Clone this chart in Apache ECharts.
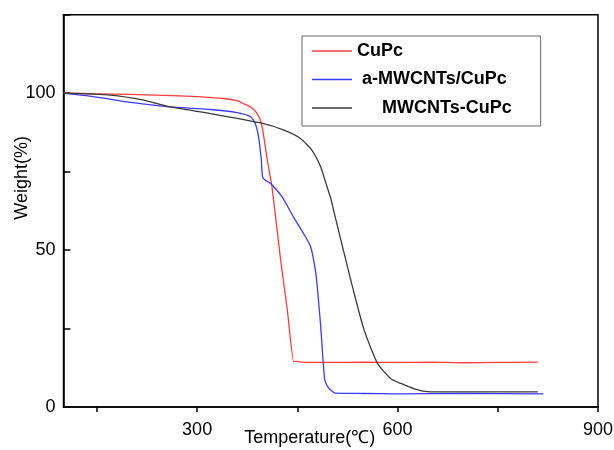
<!DOCTYPE html>
<html>
<head>
<meta charset="utf-8">
<script src="https://cdn.jsdelivr.net/npm/echarts@6/dist/echarts.min.js"></script>
<style>html,body{margin:0;padding:0;background:#fff}#c{width:614px;height:450px}</style>
</head>
<body>
<div id="c"></div>
<script>
var seriesNames = ['CuPc', 'a-MWCNTs/CuPc', 'MWCNTs-CuPc'];
var cupc = [[100,100],[150,99.8],[200,99.6],[250,99.3],[300,98.9],[340,98.3],[360,97.6],[370,96.6],[380,95.6],[388,94],[395,91.2],[399,87.2],[405,78.7],[412,70.2],[425,46.8],[435,30.9],[444.7,14.4],[448,14.6],[455,14.3],[500,14.2],[550,14.3],[600,14.2],[650,14.3],[700,14.1],[750,14.2],[810,14.3]];
var aMwcnts = [[100,100],[145,98.9],[195,97.2],[225,96.4],[260,95.6],[320,94.8],[360,93.8],[380,92.5],[387,90.3],[392,86],[396,79],[398.5,73],[410,71.2],[427,67],[444,60.6],[459,55.4],[470,51],[477,43.6],[480,38],[485,25.6],[491,8.6],[497,6],[507,4.4],[550,4.3],[600,4.2],[700,4.3],[818,4.2]];
var mwcnts = [[100,100],[170,99.4],[220,97.8],[260,95.6],[320,93.5],[395,90.5],[430,88.2],[455,85.5],[472,81.8],[485,76.5],[492,71.8],[500,66.5],[505,62],[520,49],[535,36.2],[550,24.5],[570,13.9],[590,9],[605,7.5],[625,5.8],[645,4.9],[680,4.8],[750,4.8],[810,4.8]];
var xTicks = [150,300,450,600,750,900];
var xLabels = [300,600,900];
var yTicks = [0,25,50,75,100,125];
var yLabels = [0,50,100];

var chart = echarts.init(document.getElementById('c'), null, {renderer:'canvas'});
var font = 'Arial, "Liberation Sans", sans-serif';
var colors = ['#ff3b3b', '#3b3bff', '#3a3a3a'];
chart.setOption({
  animation: false,
  grid: {left: 63.5, right: 16, top: 14.7, bottom: 43, show: true, borderColor: '#000', borderWidth: 1.5, containLabel: false, outerBoundsMode: 'none'},
  legend: {
    data: seriesNames.map(function(n){ return {name: n, icon: 'rect'}; }),
    orient: 'vertical',
    left: 302, top: 36,
    padding: [6, 29, 9, 10],
    itemWidth: 40, itemHeight: 1.3, itemGap: 10.5,
    borderColor: '#666', borderWidth: 1,
    formatter: function(n){ return n === 'CuPc' ? n : (n === 'a-MWCNTs/CuPc' ? ' ' + n : '     ' + n); },
    textStyle: {fontFamily: font, fontSize: 18, fontWeight: 'bold', color: '#000', lineHeight: 18}
  },
  xAxis: {
    type: 'value', min: 100, max: 900,
    name: 'Temperature(℃)', nameLocation: 'middle', nameGap: 22, nameMoveOverlap: false,
    nameTextStyle: {fontFamily: font, fontSize: 18, color: '#000', padding: [0, 42, 0, 0]},
    axisLine: {lineStyle: {color: '#000', width: 1.5}},
    axisTick: {show: true, customValues: xTicks, length: 5, lineStyle: {color: '#000', width: 1.5}},
    axisLabel: {customValues: xLabels, fontFamily: font, fontSize: 18, color: '#000', margin: 14},
    splitLine: {show: false}
  },
  yAxis: {
    type: 'value', min: 0, max: 125, interval: 25,
    name: 'Weight(%)', nameLocation: 'middle', nameGap: 32, nameMoveOverlap: false,
    nameTextStyle: {fontFamily: font, fontSize: 18, color: '#000', padding: [0, 0, 0, 66]},
    axisLine: {lineStyle: {color: '#000', width: 1.5}},
    axisTick: {show: true, inside: true, customValues: yTicks, length: 7, lineStyle: {color: '#000', width: 1.5}},
    axisLabel: {customValues: yLabels, fontFamily: font, fontSize: 18, color: '#000', margin: 8},
    splitLine: {show: false}
  },
  series: seriesNames.map(function(n, i){
    return {name: n, type: 'line', data: [cupc, aMwcnts, mwcnts][i], showSymbol: false, symbol: 'none', smooth: 0.2,
      lineStyle: {color: colors[i], width: 1.3}, itemStyle: {color: colors[i]}};
  })
});
</script>
</body>
</html>
